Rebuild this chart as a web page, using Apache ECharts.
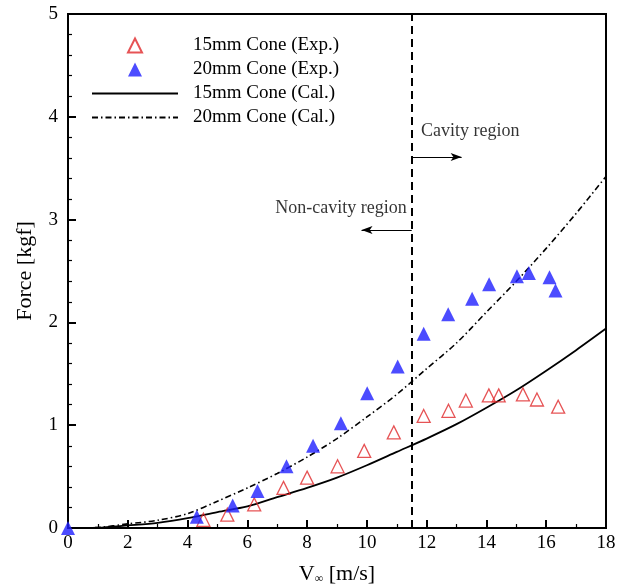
<!DOCTYPE html>
<html>
<head>
<meta charset="utf-8">
<script src="https://cdn.jsdelivr.net/npm/echarts@6/dist/echarts.min.js"></script>
<style>
  html, body { margin: 0; padding: 0; background: #fff; }
  #chart { width: 626px; height: 584px; }
</style>
</head>
<body>
<div id="chart"></div>
<script>
// Measured drag force on 15 mm and 20 mm cones
const speedExp15 = [4.53, 5.33, 6.23, 7.21, 8.0, 9.02, 9.91, 10.9, 11.9, 12.73, 13.31, 14.08, 14.41, 15.22, 15.69, 16.4];
const forceExp15 = [0.08, 0.13, 0.23, 0.39, 0.49, 0.60, 0.75, 0.93, 1.09, 1.14, 1.24, 1.29, 1.29, 1.30, 1.25, 1.18];

const speedExp20 = [0, 4.31, 5.51, 6.34, 7.31, 8.2, 9.13, 10.01, 11.03, 11.9, 12.72, 13.52, 14.09, 15.02, 15.42, 16.11, 16.31];
const forceExp20 = [0, 0.11, 0.22, 0.36, 0.60, 0.80, 1.02, 1.31, 1.57, 1.89, 2.08, 2.23, 2.37, 2.45, 2.48, 2.44, 2.31];

// Calculated force curves
const speedCal = [0, 1, 2, 3, 4, 5, 6, 7, 8, 9, 10, 11, 12, 13, 14, 15, 16, 17, 18];
const forceCal15 = [0, 0.003, 0.025, 0.05, 0.095, 0.155, 0.21, 0.30, 0.39, 0.49, 0.61, 0.74, 0.87, 1.01, 1.17, 1.34, 1.53, 1.73, 1.94];
const forceCal20 = [0, 0.005, 0.04, 0.075, 0.14, 0.26, 0.39, 0.53, 0.69, 0.87, 1.08, 1.30, 1.55, 1.80, 2.10, 2.40, 2.72, 3.06, 3.42];

// Axis ticks
const xTicks = [0, 2, 4, 6, 8, 10, 12, 14, 16, 18];
const yTicks = [0, 1, 2, 3, 4, 5];

// Boundary between the non-cavity and cavity regimes
const cavityOnset = 11.5;
const regionLabels = ['Cavity region', 'Non-cavity region'];
const seriesNames = ['15mm Cone (Exp.)', '20mm Cone (Exp.)', '15mm Cone (Cal.)', '20mm Cone (Cal.)'];

const zip = (xs, ys) => xs.map((x, i) => [x, ys[i]]);

const FONT = '"Liberation Serif", "Times New Roman", serif';
const chart = echarts.init(document.getElementById('chart'), null, { renderer: 'canvas' });

const axisCommon = {
  axisLine: { show: true, lineStyle: { color: '#000', width: 2 } },
  axisTick: { show: true, inside: true, length: 8, lineStyle: { color: '#000', width: 2 } },
  minorTick: { show: true, length: 4, lineStyle: { color: '#000', width: 1.2 } },
  splitLine: { show: false },
  axisLabel: { color: '#000', fontFamily: FONT, fontSize: 19 },
  nameTextStyle: { color: '#000', fontFamily: FONT, fontSize: 22 }
};

const legendText = { color: '#000', fontFamily: FONT, fontSize: 19, lineHeight: 14 };

chart.setOption({
  animation: false,
  backgroundColor: '#fff',
  grid: {
    left: 68, right: 20, top: 14, bottom: 56,
    outerBoundsMode: 'none',
    containLabel: false,
    show: true, borderColor: '#000', borderWidth: 2, backgroundColor: 'transparent'
  },
  legend: [
    {
      // experimental markers
      data: seriesNames.slice(0, 2),
      orient: 'vertical',
      left: 122,
      top: 31,
      itemWidth: 14,
      itemHeight: 14,
      itemGap: 5,
      selectedMode: false,
      textStyle: Object.assign({}, legendText, { padding: [0, 0, 0, 46] })
    },
    {
      // calculated curves
      data: seriesNames.slice(2),
      orient: 'vertical',
      left: 86,
      top: 79,
      itemWidth: 86,
      itemHeight: 14,
      itemGap: 5,
      selectedMode: false,
      itemStyle: { opacity: 0 },
      textStyle: Object.assign({}, legendText, { padding: [0, 0, 0, 10] })
    }
  ],
  xAxis: Object.assign({}, axisCommon, {
    type: 'value',
    min: xTicks[0],
    max: xTicks[xTicks.length - 1],
    interval: xTicks[1] - xTicks[0],
    minorTick: Object.assign({}, axisCommon.minorTick, { splitNumber: 2 }),
    axisLabel: Object.assign({}, axisCommon.axisLabel, { margin: 6 }),
    name: 'V{sub|∞} [m/s]',
    nameLocation: 'middle',
    nameGap: 35,
    nameTextStyle: Object.assign({}, axisCommon.nameTextStyle, {
      rich: { sub: { fontFamily: FONT, fontSize: 12, color: '#000', verticalAlign: 'bottom', padding: [9, 0, 0, 0] } }
    })
  }),
  yAxis: Object.assign({}, axisCommon, {
    type: 'value',
    min: yTicks[0],
    max: yTicks[yTicks.length - 1],
    interval: yTicks[1] - yTicks[0],
    minorTick: Object.assign({}, axisCommon.minorTick, { splitNumber: 5 }),
    axisLabel: Object.assign({}, axisCommon.axisLabel, { margin: 10 }),
    name: 'Force [kgf]',
    nameLocation: 'middle',
    nameRotate: 90,
    nameGap: 32
  }),
  series: [
    {
      name: seriesNames[2],
      type: 'line',
      data: zip(speedCal, forceCal15),
      smooth: 0.3,
      symbol: 'none',
      lineStyle: { color: '#000', width: 1.8, type: 'solid' },
      itemStyle: { color: '#000' },
      z: 2
    },
    {
      name: seriesNames[3],
      type: 'line',
      data: zip(speedCal, forceCal20),
      smooth: 0.3,
      symbol: 'none',
      lineStyle: { color: '#000', width: 1.6, type: [6, 3, 1.5, 3] },
      itemStyle: { color: '#000' },
      z: 2
    },
    {
      name: seriesNames[0],
      type: 'scatter',
      data: zip(speedExp15, forceExp15),
      symbol: 'triangle',
      symbolSize: 13,
      itemStyle: { color: 'transparent', borderColor: '#e0282a', borderWidth: 1.3 },
      z: 4
    },
    {
      name: seriesNames[1],
      type: 'scatter',
      data: zip(speedExp20, forceExp20),
      symbol: 'triangle',
      symbolSize: 14,
      itemStyle: { color: '#1f1fff' },
      z: 5
    },
    {
      // regime boundary, arrows and region captions
      name: 'regions',
      type: 'scatter',
      symbolSize: 0,
      silent: true,
      data: [
        { value: [11.81, 3.86], label: { show: true, position: 'right', distance: 0, formatter: regionLabels[0] } },
        { value: [11.33, 3.11], label: { show: true, position: 'left', distance: 0, formatter: regionLabels[1] } }
      ],
      label: { color: '#000', fontFamily: FONT, fontSize: 18 },
      markLine: {
        silent: true,
        animation: false,
        symbol: ['none', 'none'],
        label: { show: false },
        data: [
          {
            xAxis: cavityOnset,
            lineStyle: { color: '#000', width: 2, type: [8, 5] }
          },
          [
            { coord: [cavityOnset, 3.61], lineStyle: { color: '#000', width: 1, type: 'solid' } },
            { coord: [13.17, 3.61], symbol: 'arrow', symbolSize: [6, 11] }
          ],
          [
            { coord: [cavityOnset, 2.90], lineStyle: { color: '#000', width: 1, type: 'solid' } },
            { coord: [9.82, 2.90], symbol: 'arrow', symbolSize: [6, 11] }
          ]
        ]
      },
      z: 3
    }
  ]
});
</script>
</body>
</html>
